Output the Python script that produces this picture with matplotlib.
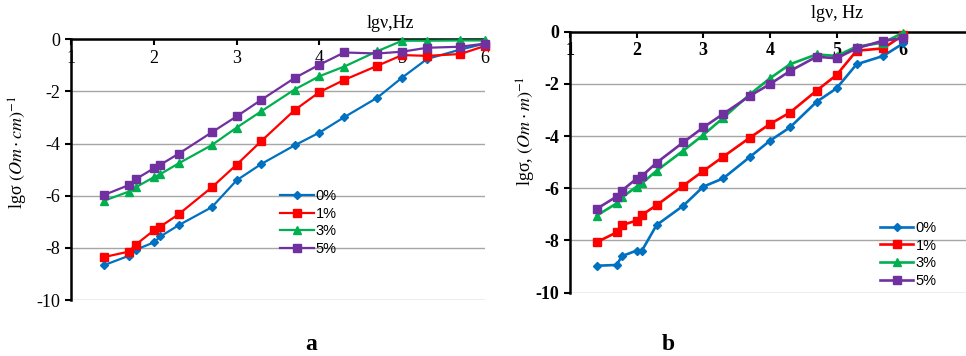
import matplotlib.pyplot as plt

plt.rcParams['font.family'] = ['Liberation Serif', 'DejaVu Serif']
plt.rcParams['mathtext.fontset'] = 'stix'
plt.rcParams['axes.unicode_minus'] = False

# lg of frequency, same for all curves
lg_nu = [1.40, 1.70, 1.78, 2.00, 2.08, 2.30, 2.70, 3.00, 3.30, 3.70,
         4.00, 4.30, 4.70, 5.00, 5.30, 5.70, 6.00]
labels = ['0%', '1%', '3%', '5%']

# panel a: lg sigma (Om*cm)^-1
a_0 = [-8.66, -8.30, -8.07, -7.79, -7.56, -7.13, -6.44, -5.41, -4.78, -4.07,
       -3.58, -2.99, -2.24, -1.47, -0.76, -0.40, -0.17]
a_1 = [-8.35, -8.14, -7.88, -7.33, -7.18, -6.71, -5.68, -4.81, -3.90, -2.72,
       -2.03, -1.56, -1.02, -0.61, -0.64, -0.57, -0.26]
a_3 = [-6.19, -5.84, -5.68, -5.29, -5.17, -4.76, -4.06, -3.39, -2.76, -1.93,
       -1.42, -1.05, -0.46, -0.06, -0.06, -0.05, -0.05]
a_5 = [-5.97, -5.59, -5.37, -4.95, -4.81, -4.39, -3.57, -2.96, -2.32, -1.49,
       -0.98, -0.51, -0.55, -0.48, -0.33, -0.29, -0.17]

# panel b: lg sigma (Om*m)^-1
b_0 = [-8.97, -8.94, -8.60, -8.39, -8.39, -7.41, -6.67, -5.94, -5.62, -4.80,
       -4.18, -3.67, -2.69, -2.17, -1.25, -0.93, -0.45]
b_1 = [-8.07, -7.69, -7.41, -7.24, -7.02, -6.65, -5.90, -5.34, -4.79, -4.06,
       -3.54, -3.10, -2.26, -1.66, -0.73, -0.64, -0.13]
b_3 = [-7.05, -6.58, -6.35, -5.94, -5.81, -5.33, -4.56, -3.96, -3.30, -2.40,
       -1.79, -1.25, -0.87, -0.93, -0.57, -0.42, -0.04]
b_5 = [-6.79, -6.32, -6.09, -5.63, -5.53, -5.02, -4.24, -3.67, -3.15, -2.46,
       -2.01, -1.51, -0.96, -1.02, -0.64, -0.34, -0.26]

colors = ['#0070C0', '#FF0000', '#00B050', '#7030A0']
markers = ['D', 's', '^', 's']
msizes = [4.5, 5.5, 6, 5.5]

fig = plt.figure(figsize=(9.66, 3.56), dpi=100)
ax1 = fig.add_axes([0.0735, 0.157, 0.4286, 0.733])
ax2 = fig.add_axes([0.590, 0.178, 0.414, 0.733])


def style(ax, xmax, bold):
    w = 'bold' if bold else 'normal'
    xt = list(range(1, xmax + 1))
    yt = list(range(-10, 1, 2))
    # spine position first: it resets the ticks
    ax.spines['top'].set_visible(False)
    ax.spines['right'].set_visible(False)
    ax.spines['bottom'].set_position(('data', 0))
    ax.spines['bottom'].set_linewidth(1.8)
    ax.spines['left'].set_linewidth(1.8)
    ax.spines['bottom'].set_zorder(5)
    ax.set_xlim(1, xmax)
    ax.set_ylim(-10, 0)
    ax.set_xticks(xt, labels=[str(v) for v in xt], fontweight=w)
    ax.set_yticks(yt, labels=[str(v) for v in yt], fontweight=w)
    ax.tick_params(axis='both', direction='out', length=4, width=1.5,
                   labelsize=13)
    ax.grid(axis='y', color='#A6A6A6', linewidth=1.0)
    ax.set_axisbelow(True)


def draw(ax, series, legend_loc, lw):
    for ys, c, m, ms, lab in zip(series, colors, markers, msizes, labels):
        ax.plot(lg_nu, ys, color=c, marker=m, markersize=ms, linewidth=lw,
                label=lab, clip_on=False, zorder=6)
    ax.legend(loc='upper left', bbox_to_anchor=legend_loc, frameon=False,
              prop={'family': 'Liberation Sans', 'size': 10.5},
              handlelength=2.3, handletextpad=0.15, labelspacing=0.25,
              borderaxespad=0, borderpad=0)


draw(ax1, [a_0, a_1, a_3, a_5], (0.505, 0.425), 1.6)
style(ax1, 6, False)
draw(ax2, [b_0, b_1, b_3, b_5], (0.775, 0.275), 1.9)
style(ax2, 7, True)

fig.text(390 / 966, 1 - 23 / 356, 'lgν,Hz', fontsize=13, ha='center', va='center')
fig.text(837 / 966, 1 - 14 / 356, 'lgν, Hz', fontsize=13, ha='center', va='center')
fig.text(18 / 966, 1 - 152 / 356, 'lgσ $(Om\\cdot cm)^{-1}$', fontsize=13,
         rotation=90, ha='center', va='center')
fig.text(526 / 966, 1 - 131 / 356, 'lgσ, $(Om\\cdot m)^{-1}$', fontsize=13,
         rotation=90, ha='center', va='center')
fig.text(311 / 966, 1 - 345 / 356, 'a', fontsize=17, fontweight='bold',
         ha='center', va='center')
fig.text(668 / 966, 1 - 344 / 356, 'b', fontsize=17, fontweight='bold',
         ha='center', va='center')

fig.savefig('out.png', dpi=100)
